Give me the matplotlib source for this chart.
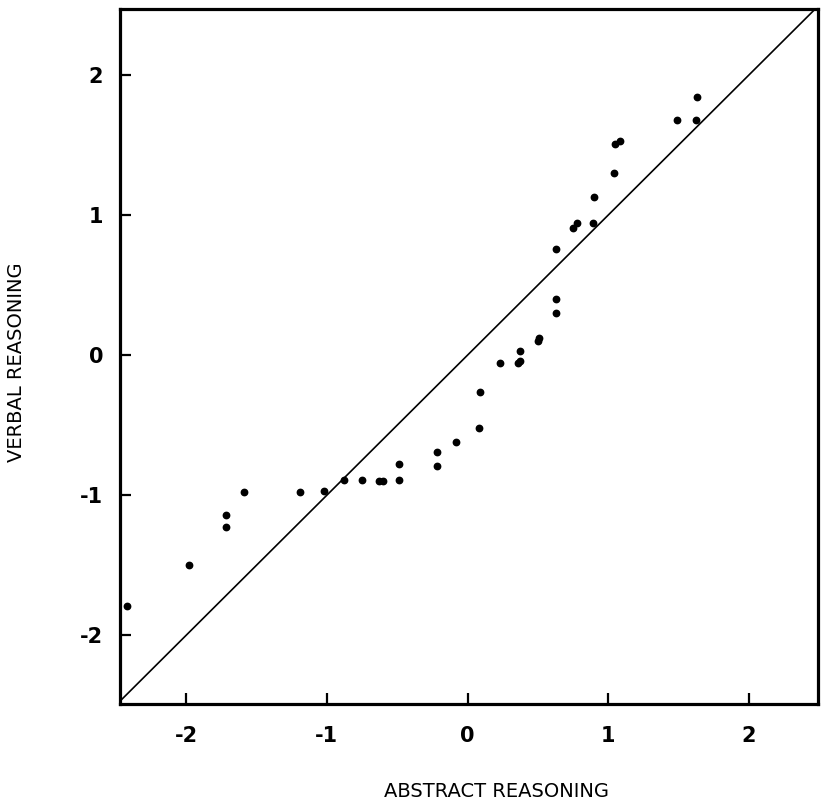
import numpy as np
import matplotlib
matplotlib.use('Agg')
import matplotlib.pyplot as plt

# standardised scores
abstract = [-2.42, -1.98, -1.72, -1.72, -1.59, -1.19, -1.02, -0.88, -0.75, -0.63,
            -0.60, -0.49, -0.49, -0.22, -0.22, -0.08, 0.08, 0.09, 0.23, 0.36,
            0.37, 0.37, 0.50, 0.51, 0.63, 0.63, 0.63, 0.75, 0.78, 0.89,
            0.90, 1.04, 1.05, 1.08, 1.49, 1.62, 1.63]
verbal = [-1.79, -1.50, -1.14, -1.23, -0.98, -0.98, -0.97, -0.89, -0.89, -0.90,
          -0.90, -0.89, -0.78, -0.79, -0.69, -0.62, -0.52, -0.26, -0.06, -0.06,
          -0.04, 0.03, 0.10, 0.12, 0.30, 0.40, 0.76, 0.91, 0.94, 0.94,
          1.13, 1.30, 1.51, 1.53, 1.68, 1.68, 1.84]
ticks = [-2, -1, 0, 1, 2]
tick_labels = ['-2', '-1', '0', '1', '2']

plt.rcParams['axes.unicode_minus'] = False

fig = plt.figure(figsize=(8.24, 8.06), dpi=100)
ax = fig.add_axes([0.1456, 0.1266, 0.8471, 0.8622])

xlim = (-2.47, 2.49)
ylim = (-2.49, 2.47)

# line of equality
ax.plot([-3, 3], [-3, 3], color='black', lw=1.2)
ax.plot(abstract, verbal, 'o', color='black', ms=4.6, mec='black')

ax.set_xlim(xlim)
ax.set_ylim(ylim)

for s in ax.spines.values():
    s.set_linewidth(2.3)

ax.set_xticks(ticks)
ax.set_xticklabels(tick_labels)
ax.set_yticks(ticks)
ax.set_yticklabels(tick_labels)
ax.tick_params(direction='in', length=8, width=1.6, labelsize=15)
ax.tick_params(axis='x', pad=16)
ax.tick_params(axis='y', pad=12)
for lab in ax.get_xticklabels() + ax.get_yticklabels():
    lab.set_fontweight('bold')

ax.set_xlabel('ABSTRACT REASONING', fontsize=14)
ax.set_ylabel('VERBAL REASONING', fontsize=14)
ax.xaxis.set_label_coords(0.54, -0.112)
ax.yaxis.set_label_coords(-0.135, 0.492)

fig.savefig('out.png', dpi=100)
